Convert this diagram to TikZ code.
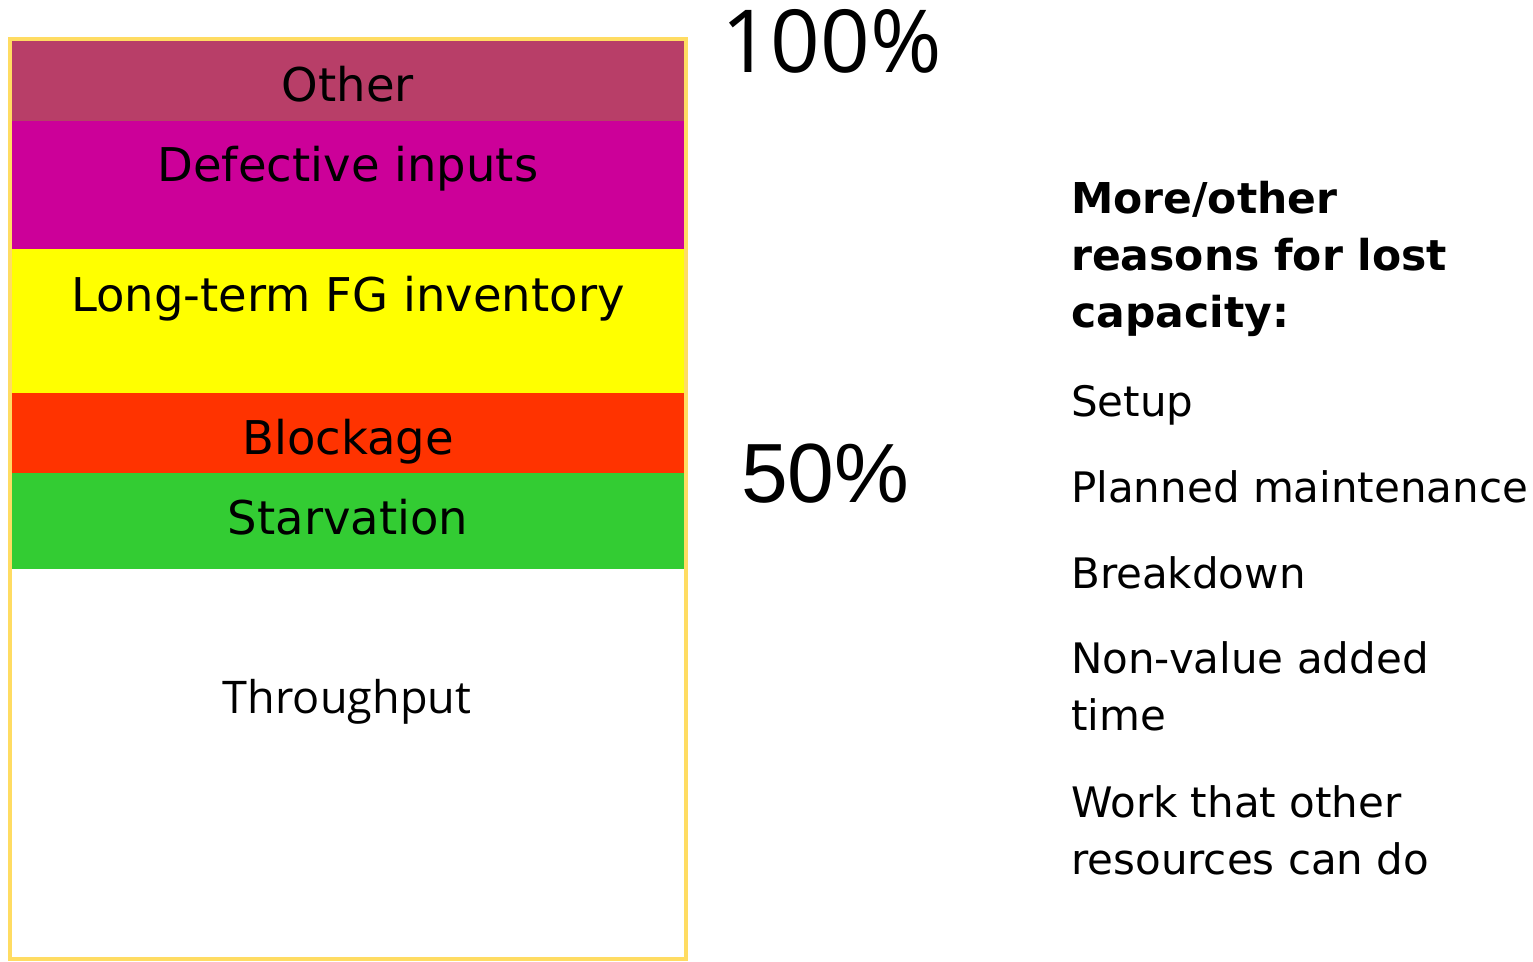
\documentclass[tikz,border=0pt]{standalone}
\usepackage{fontspec}
\setmainfont{DejaVu Sans}
\newfontfamily\opensans{Open Sans}
\newfontfamily\arialsans{Liberation Sans}
\definecolor{frameyellow}{HTML}{FFDC62}
\definecolor{otherc}{HTML}{B83E68}
\definecolor{defectc}{HTML}{CC0099}
\definecolor{fgc}{HTML}{FFFF00}
\definecolor{blockc}{HTML}{FF3300}
\definecolor{starvc}{HTML}{33CC33}
\tikzset{
  band/.style={fill=#1, draw=none},
  bandlabel/.style={anchor=base, inner sep=0pt, font=\fontsize{46.5}{56}\selectfont},
  reason/.style={anchor=base west, inner sep=0pt, font=\fontsize{42}{56}\selectfont},
  reasonhead/.style={anchor=base west, inner sep=0pt, font=\fontsize{42.5}{56}\selectfont\bfseries},
}
\begin{document}
\begin{tikzpicture}[x=1pt, y=-1pt]
\useasboundingbox (0,0) rectangle (1533,961);

% stacked capacity bands
\fill[band=otherc]  (12,41)  rectangle (684,121);
\fill[band=defectc] (12,121) rectangle (684,249);
\fill[band=fgc]     (12,249) rectangle (684,393);
\fill[band=blockc]  (12,393) rectangle (684,473);
\fill[band=starvc]  (12,473) rectangle (684,569);
% outer frame
\draw[frameyellow, line width=4pt] (10,39) rectangle (686,959);

% band labels
\node[bandlabel] (lother)  at (348,101) {Other};
\node[bandlabel] (ldefect) at (348,181) {Defective inputs};
\node[bandlabel] (lfg)     at (348,311) {Long-term FG inventory};
\node[bandlabel] (lblock)  at (348,454) {Blockage};
\node[bandlabel] (lstarv)  at (348,534) {Starvation};
\node[anchor=base, inner sep=0pt, font=\opensans\fontsize{45}{56}\selectfont] (lthru) at (347,713) {Throughput};

% scale marks
\node[anchor=base west, inner sep=0pt, font=\opensans\fontsize{87}{90}\selectfont] (p100) at (721,72) {100\%};
\node[anchor=base west, inner sep=0pt, font=\arialsans\fontsize{84}{90}\selectfont] (p50) at (741,502) {50\%};

% list of further losses
\node[reasonhead] (h1) at (1071,213) {More/other};
\node[reasonhead] (h2) at (1071,270) {reasons for lost};
\node[reasonhead] (h3) at (1071,327) {capacity:};
\node[reason] (r1)  at (1071,416) {Setup};
\node[reason] (r2)  at (1071,502) {Planned maintenance};
\node[reason] (r3)  at (1071,588) {Breakdown};
\node[reason] (r4a) at (1071,673) {Non-value added};
\node[reason] (r4b) at (1071,730) {time};
\node[reason] (r5a) at (1071,817) {Work that other};
\node[reason] (r5b) at (1071,874) {resources can do};
\end{tikzpicture}
\end{document}
